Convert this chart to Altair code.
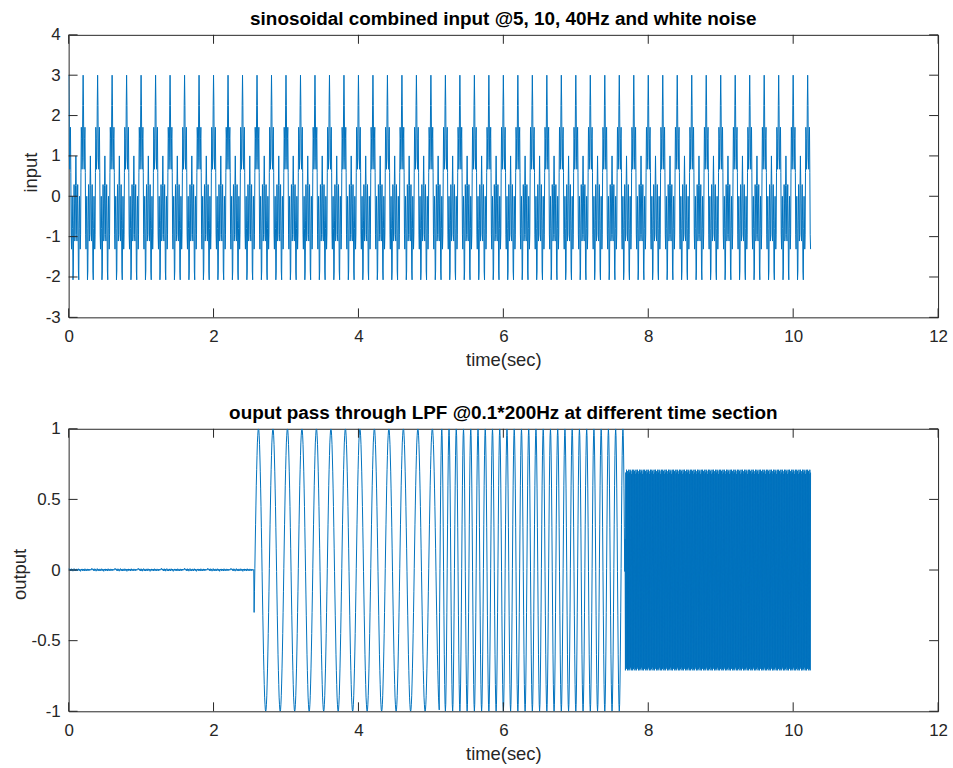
import numpy as np
import pandas as pd
import altair as alt

# ---------------- data ----------------
FS = 200          # samples per second
N = 2049          # samples 0 .. 10.24 s

# one 0.2 s period (40 samples) of the combined input signal
IN_PERIOD = [3.00, 2.25, 0.95, 0.67, 1.43, 1.71, 0.59, -0.94, -1.31, -0.49,
             0.00, -0.80, -2.07, -1.85, -0.59, 0.29, -0.19, -1.11, -0.95, 0.27,
             1.00, 0.27, -0.95, -1.11, -0.19, 0.29, -0.59, -1.85, -2.07, -0.80,
             0.00, -0.49, -1.31, -0.94, 0.59, 1.71, 1.43, 0.67, 0.95, 2.25]

# output, section 1 (0 - 2.56 s): residual noise
OUT_NOISE = [0.012, 0.006, 0.004, 0.008, -0.002, 0.005, -0.006, 0.003, 0.009, -0.004,
             0.002, 0.007, -0.008, -0.003, 0.004, 0.010, 0.001, -0.005, 0.006, 0.002,
             -0.007, 0.004, 0.008, -0.002, 0.003, -0.006, 0.005, 0.009, -0.001, 0.004,
             -0.004, 0.007, 0.002, -0.009, -0.003, 0.006, 0.001, 0.008, -0.005, 0.003,
             0.007, -0.002, 0.005, -0.007, 0.002, 0.009, 0.000, -0.004, 0.006, 0.003,
             -0.006, 0.004, 0.008, -0.003, 0.001, 0.006, -0.005, 0.004, 0.007, -0.002,
             0.003, 0.005, -0.001, 0.002]
# section 2 (2.56 - 5.12 s): one 0.2 s period (40 samples)
OUT_5HZ = [-0.30, -0.15, 0.01, 0.17, 0.32, 0.46, 0.60, 0.71, 0.81, 0.90,
           0.95, 0.99, 1.00, 0.99, 0.95, 0.89, 0.80, 0.70, 0.58, 0.45,
           0.30, 0.15, -0.01, -0.17, -0.32, -0.46, -0.60, -0.71, -0.81, -0.90,
           -0.95, -0.99, -1.00, -0.99, -0.95, -0.89, -0.80, -0.70, -0.58, -0.45]
# section 3 (5.12 - 7.68 s): one 0.1 s period (20 samples)
OUT_10HZ = [-0.30, 0.01, 0.32, 0.60, 0.81, 0.95, 1.00, 0.95, 0.80, 0.58,
            0.30, -0.01, -0.32, -0.60, -0.81, -0.95, -1.00, -0.95, -0.80, -0.58]
# section 4 (7.68 - 10.24 s): first sample, then dense attenuated band +-0.71
OUT_40HZ_START = [0.22]
OUT_40HZ = [-0.71, 0.69, -0.70, 0.71, -0.69, 0.70, -0.71, 0.68, -0.70, 0.71]

X_TICKS = [0, 2, 4, 6, 8, 10, 12]
Y_TICKS_IN = [-3, -2, -1, 0, 1, 2, 3, 4]
Y_TICKS_OUT = [-1, -0.5, 0, 0.5, 1]

TITLE_IN = "sinosoidal combined input @5, 10, 40Hz and white noise"
TITLE_OUT = "ouput pass through LPF @0.1*200Hz at different time section"

# ---------------- build tables ----------------
t = np.arange(N) / FS
inp = np.resize(np.array(IN_PERIOD), N)
out = np.concatenate([
    np.resize(np.array(OUT_NOISE), 512),
    np.resize(np.array(OUT_5HZ), 512),
    np.resize(np.array(OUT_10HZ), 512),
    np.array(OUT_40HZ_START),
    np.resize(np.array(OUT_40HZ), N - 1536 - len(OUT_40HZ_START)),
])
df_in = pd.DataFrame({"t": t, "v": inp})
df_out = pd.DataFrame({"t": t, "v": out})

# ---------------- style ----------------
W, H = 874, 284
FONT = "Liberation Sans"
AX = "#262626"
BLUE = "#0072BD"
TL = 9  # inward tick length


def panel(df, ydom, yticks, ytitle, title, title_x, title_y):
    xscale = alt.Scale(domain=[0, 12], nice=False, zero=False)
    yscale = alt.Scale(domain=ydom, nice=False, zero=False)
    xaxis = alt.Axis(values=X_TICKS, title="time(sec)", ticks=False, domain=False,
                     grid=False, labelPadding=11, labelFontSize=17, labelFlush=False,
                     labelExpr="toString(datum.value)",
                     titleFontSize=18.5, titleY=48, titleBaseline="alphabetic")
    yaxis = alt.Axis(values=yticks, title=ytitle, ticks=False, domain=False,
                     grid=False, labelPadding=8.5, labelFontSize=17, labelFlush=False,
                     labelExpr="toString(datum.value)",
                     titleFontSize=18.5, titleX=title_x, titleY=title_y,
                     titleBaseline="middle", titleAngle=270)
    line = alt.Chart(df).mark_line(color=BLUE, strokeWidth=1, clip=True).encode(
        x=alt.X("t:Q", scale=xscale, axis=xaxis),
        y=alt.Y("v:Q", scale=yscale, axis=yaxis),
    )
    xt = pd.DataFrame({"t": X_TICKS})
    yt = pd.DataFrame({"v": yticks})
    rule = dict(color=AX, strokeWidth=1)
    xt_bot = alt.Chart(xt).mark_rule(**rule).encode(
        x=alt.X("t:Q", scale=xscale, axis=xaxis), y=alt.value(H), y2=alt.value(H - TL))
    xt_top = alt.Chart(xt).mark_rule(**rule).encode(
        x=alt.X("t:Q", scale=xscale, axis=xaxis), y=alt.value(0), y2=alt.value(TL))
    yt_left = alt.Chart(yt).mark_rule(**rule).encode(
        y=alt.Y("v:Q", scale=yscale, axis=yaxis), x=alt.value(0), x2=alt.value(TL))
    yt_right = alt.Chart(yt).mark_rule(**rule).encode(
        y=alt.Y("v:Q", scale=yscale, axis=yaxis), x=alt.value(W - TL), x2=alt.value(W))
    return alt.layer(line, xt_bot, xt_top, yt_left, yt_right).properties(
        width=W, height=H,
        title=alt.TitleParams(text=title, font=FONT, fontSize=19, fontWeight="bold",
                              color="#000000", anchor="middle", offset=-18,
                              baseline="alphabetic", frame="group"),
    )


top = panel(df_in, [-3, 4], Y_TICKS_IN, "input", TITLE_IN, -38.5, 138)
bottom = panel(df_out, [-1, 1], Y_TICKS_OUT, "output", TITLE_OUT, -49.5, 146)

chart = alt.vconcat(top, bottom, spacing=112, bounds="flush").properties(
    padding={"left": 10, "top": 7, "right": 5, "bottom": 5},
    background="white",
).configure_view(stroke=AX, strokeWidth=1).configure_axis(
    labelFont=FONT, titleFont=FONT, labelColor=AX, titleColor=AX,
    titleFontWeight="normal",
)

chart.save("out.html", embed_options={"renderer": "svg", "actions": False})
